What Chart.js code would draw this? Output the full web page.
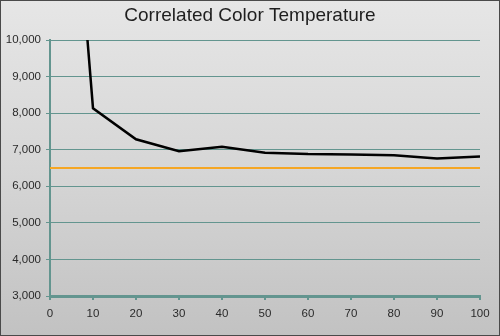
<!DOCTYPE html>
<html>
<head>
<meta charset="utf-8">
<script src="https://cdn.jsdelivr.net/npm/chart.js@4/dist/chart.umd.min.js"></script>
<style>
  html, body { margin: 0; padding: 0; }
  #wrap {
    width: 500px; height: 336px; box-sizing: border-box;
    border: 1px solid #4a4a4a;
    background: linear-gradient(to bottom, #e6e6e6 0%, #d6d6d6 50%, #c2c2c2 100%);
  }
  canvas { display: block; }
</style>
</head>
<body>
<div id="wrap"><canvas id="cct" width="498" height="334"></canvas></div>
<script>
  // stimulus level (%) and measured colour temperature (K)
  const levels = [5, 10, 20, 30, 40, 50, 60, 70, 80, 90, 100];
  const measured = [15400, 8135, 7285, 6960, 7080, 6918, 6880, 6870, 6848, 6760, 6812];
  const targetLevels = [0, 100];
  const targetValues = [6500, 6500];

  const teal = '#63958f';

  const cctChart = new Chart(document.getElementById('cct'), {
    type: 'line',
    data: {
      datasets: [{
        data: levels.map((x, i) => ({ x: x, y: measured[i] })),
        borderColor: '#000000',
        borderWidth: 2.5,
        pointRadius: 0,
        tension: 0
      }, {
        data: targetLevels.map((x, i) => ({ x: x, y: targetValues[i] })),
        borderColor: '#f5a623',
        borderWidth: 2,
        pointRadius: 0,
        tension: 0
      }]
    },
    options: {
      responsive: false,
      animation: false,
      layout: { padding: 0 },
      plugins: {
        legend: { display: false },
        tooltip: { enabled: false },
        title: {
          display: true,
          text: 'Correlated Color Temperature',
          color: '#1e1e1e',
          font: { family: 'Liberation Sans, Arial, sans-serif', size: 19, weight: 'normal' },
          padding: { top: 3, bottom: 13.2 }
        }
      },
      scales: {
        x: {
          type: 'linear',
          min: 0, max: 100,
          ticks: { stepSize: 10, color: '#2a2a2a', padding: 7,
            font: { family: 'Liberation Sans, Arial, sans-serif', size: 11.5 } },
          grid: { drawOnChartArea: false, color: teal, tickLength: 4, lineWidth: 2 },
          border: { color: teal, width: 3 },
          afterFit: s => { s.height = 39; }
        },
        y: {
          min: 3000, max: 10000,
          ticks: { stepSize: 1000, color: '#2a2a2a', padding: 5,
            font: { family: 'Liberation Sans, Arial, sans-serif', size: 11.5 },
            callback: v => v.toLocaleString('en-US') },
          grid: { color: teal, tickLength: 4, lineWidth: 1 },
          border: { color: teal, width: 2 },
          afterFit: s => { s.width = 49; }
        },
        // empty right-hand strip so the title stays centred on the whole picture
        yRight: {
          position: 'right',
          min: 3000, max: 10000,
          ticks: { display: false },
          grid: { display: false },
          border: { display: false },
          afterFit: s => { s.width = 19; }
        }
      }
    }
  });
</script>
</body>
</html>
